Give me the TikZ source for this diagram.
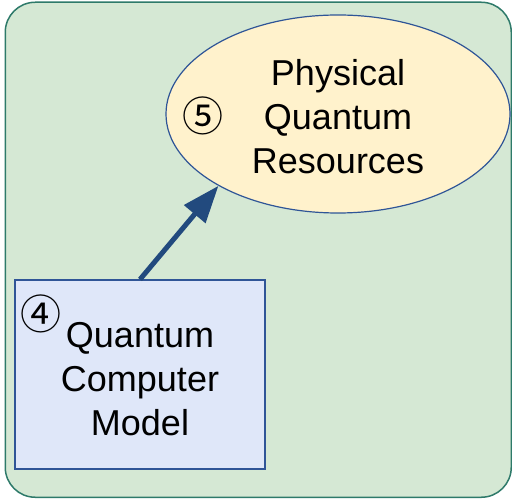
\documentclass[tikz,border=0pt]{standalone}
\usepackage{fontspec}
\setmainfont{Liberation Sans}
\newfontfamily\circfont{Noto Sans CJK JP}
\usetikzlibrary{shapes.geometric,arrows.meta}
\definecolor{outerfill}{HTML}{D5E8D4}
\definecolor{outerline}{HTML}{2E7A6A}
\definecolor{ellfill}{HTML}{FFF2CC}
\definecolor{boxfill}{HTML}{DFE7F9}
\definecolor{darkblue}{HTML}{2F5597}
\definecolor{arrowblue}{HTML}{224A7E}
\tikzset{
  bigtext/.style={font=\fontsize{36bp}{44bp}\selectfont, align=center, inner sep=0pt},
  circnum/.style={font=\circfont\fontsize{41bp}{41bp}\selectfont, inner sep=0pt},
  link/.style={arrowblue, line width=5bp, -{Triangle[length=37bp,width=27bp]}}
}
\begin{document}
\begin{tikzpicture}[x=1bp,y=-1bp]
\useasboundingbox (0,0) rectangle (512,499);
\fill[white] (0,0) rectangle (512,499);
\node[draw=outerline, fill=outerfill, line width=1.5bp, rounded corners=30bp,
  minimum width=506bp, minimum height=495bp, inner sep=0pt, anchor=north west] (outer) at (4.5,1.5) {};
\node[ellipse, draw=darkblue, fill=ellfill, line width=1.2bp,
  minimum width=344bp, minimum height=198bp, inner sep=0pt] (ell) at (338,114) {};
\node[bigtext] (elltext) at (338,117) {Physical\\Quantum\\Resources};
\node[circnum] (five) at (203,116) {⑤};
\node[draw=darkblue, fill=boxfill, line width=1.2bp,
  minimum width=250bp, minimum height=189bp, inner sep=0pt] (box) at (140,374.5) {};
\node[bigtext] (boxtext) at (140,379) {Quantum\\Computer\\Model};
\node[circnum] (four) at (41,314) {④};
\draw[link] (box.north) -- (ell.211);
\end{tikzpicture}
\end{document}
